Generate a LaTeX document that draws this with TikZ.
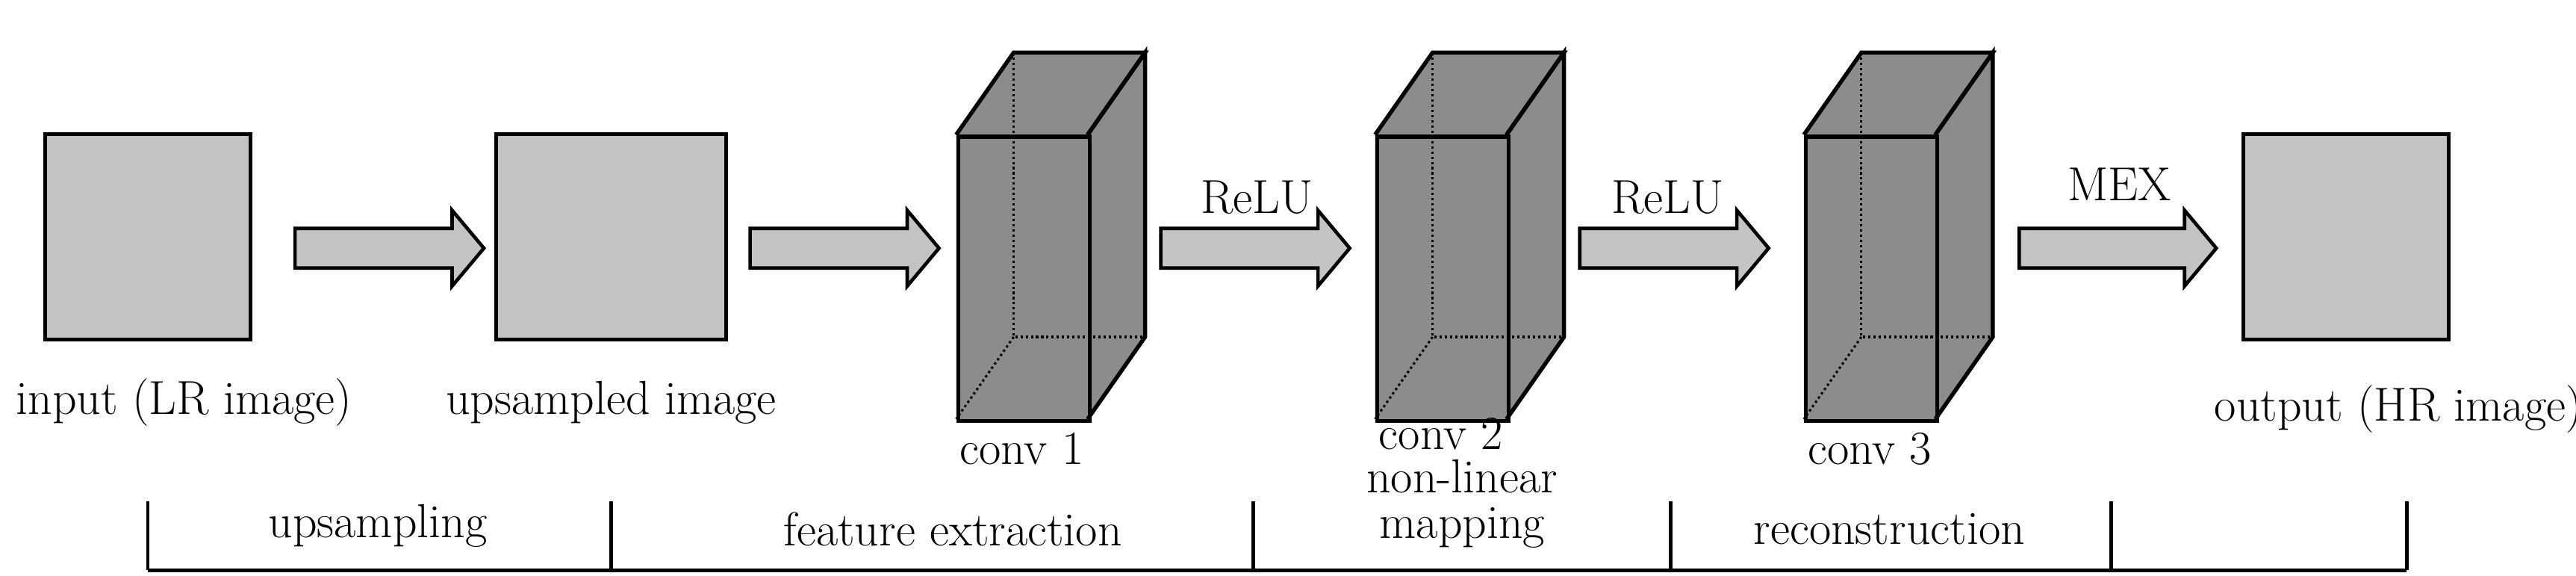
\documentclass[tikz,border=0pt]{standalone}
\usetikzlibrary{shapes.arrows}
\begin{document}
\begin{tikzpicture}[x=0.02cm,y=-0.02cm,line width=1.4pt]
    \useasboundingbox (0,0) rectangle (1568,350);
    \tikzset{img/.style={draw,fill=black!23,minimum width=2.5cm,minimum height=2.5cm,inner sep=0pt},
             fwd/.style={draw,fill=black!23,single arrow,minimum height=2.3cm,minimum width=0.88cm,
                         single arrow head extend=0.22cm,single arrow tip angle=100,inner xsep=0pt,
                         inner ysep=0.22cm,line width=1.2pt},
             lab/.style={font=\fontsize{16.5}{18}\selectfont,inner sep=1pt},
             tick/.style={line width=1.2pt}}

    % images
    \node[img] (in) at (90,144) {};
    \node[img,minimum width=2.8cm] (up) at (372,144) {};
    \node[img] (out) at (1428,144) {};

    % conv layers
    \foreach \x/\n in {582/c1,837/c2,1098/c3}{
        \fill[black!45] (\x,82) -- (\x+35,32) -- (\x+115,32) -- (\x+115,205) -- (\x+80,255) -- (\x,255) -- cycle;
        \draw[densely dotted,line width=0.8pt] (\x+35,32) -- (\x+35,205) -- (\x+115,205);
        \draw[densely dotted,line width=0.8pt] (\x+35,205) -- (\x,255);
        \draw (\x,82) -- (\x+35,32) -- (\x+115,32) -- (\x+80,82);
        \draw (\x+80,82) -- (\x+115,32) -- (\x+115,205) -- (\x+80,255);
        \node[draw,minimum width=1.6cm,minimum height=3.46cm,inner sep=0pt,anchor=north west] (\n) at (\x,82) {};
    }

    % arrows
    \node[fwd] (a1) at (232,151) {};
    \node[fwd] (a2) at (509,151) {};
    \node[fwd] (a3) at (759,151) {};
    \node[fwd] (a4) at (1014,151) {};
    \node[fwd,minimum height=2.4cm] (a5) at (1284,151) {};

    \node[lab] (r1) at (765,120) {ReLU};
    \node[lab] (r2) at (1015,120) {ReLU};
    \node[lab] (mex) at (1290,112) {MEX};

    % labels
    \node[lab] (lin) at (112,245) {input (LR image)};
    \node[lab] (lup) at (372,245) {upsampled image};
    \node[lab] (lc1) at (622,273) {conv 1};
    \node[lab] (lc2) at (877,264) {conv 2};
    \node[lab] (lnl) at (890,290) {non-linear};
    \node[lab] (lc3) at (1138,273) {conv 3};
    \node[lab] (lout) at (1460,249) {output (HR image)};

    % stages
    \foreach \x [count=\i] in {90,372,763,1017,1285,1465}
        \coordinate (t\i) at (\x,305);
    \coordinate (b1) at (90,347);
    \coordinate (b6) at (1465,347);
    \draw[tick] (b1) -- (b6);
    \foreach \i in {1,...,6}
        \draw[tick] (t\i) -- (t\i |- b1);
    \node[lab] (s1) at (230,320) {upsampling};
    \node[lab] (s2) at (580,322) {feature extraction};
    \node[lab] (s3) at (890,321) {mapping};
    \node[lab] (s4) at (1150,322) {reconstruction};
\end{tikzpicture}
\end{document}
